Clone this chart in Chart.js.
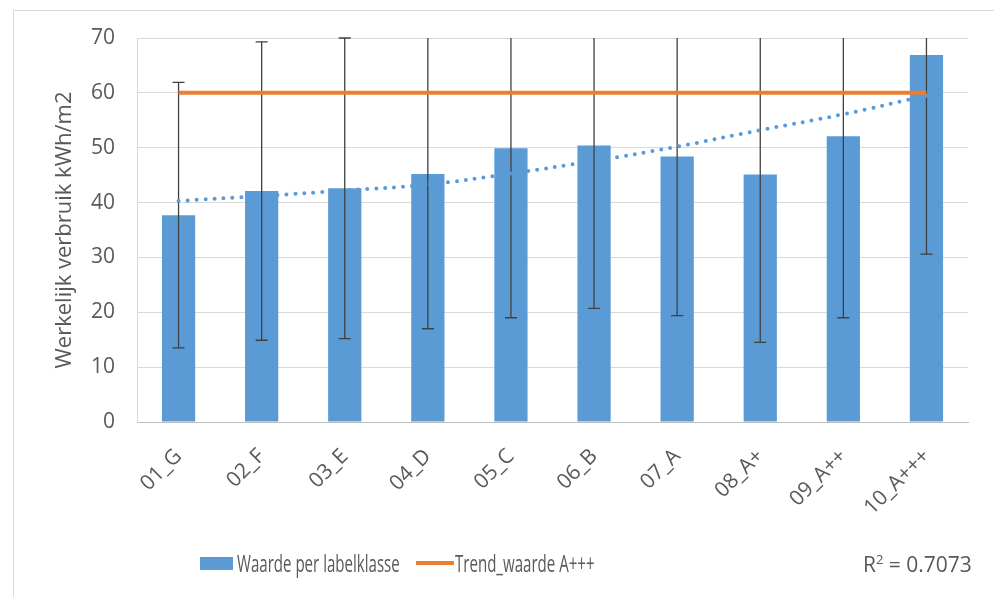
<!DOCTYPE html>
<html lang="nl">
<head>
<meta charset="UTF-8">
<title>Werkelijk verbruik per labelklasse</title>
<script src="https://cdn.jsdelivr.net/npm/chart.js"></script>
<style>
  body { margin: 0; background: #fff; }
  #wrap { position: relative; width: 994px; height: 597px; overflow: hidden; }
  #frame { position: absolute; left: 13px; top: 10px; width: 1000px; height: 600px;
           border-left: 1px solid #d9d9d9; border-top: 1px solid #d9d9d9; }
  canvas { position: absolute; left: 0; top: 0; }
  .lg { position: absolute; font-family: 'Open Sans', sans-serif;
        font-size: 21px; color: #595959; line-height: 24px; white-space: nowrap; }
  .smal { font-size: 23px; transform: scaleX(0.655); transform-origin: 0 50%; }
</style>
</head>
<body>
<div id="wrap">
  <div id="frame"></div>
  <canvas id="chart" width="994" height="597"></canvas>
  <div style="position:absolute;left:200px;top:557px;width:33px;height:13px;background:#5b9bd5"></div>
  <div class="lg smal" style="left:237px;top:551px">Waarde per labelklasse</div>
  <div style="position:absolute;left:416px;top:561px;width:38px;height:4px;background:#ed7d31"></div>
  <div class="lg smal" style="left:455px;top:551px">Trend_waarde A+++</div>
  <div class="lg" style="left:863px;top:552px">R<sup style="font-size:13px;line-height:0">2</sup> = 0.7073</div>
</div>
<script>
const klassen = ['01_G','02_F','03_E','04_D','05_C','06_B','07_A','08_A+','09_A++','10_A+++'];
const waarde = [37.7, 42.1, 42.6, 45.2, 49.9, 50.4, 48.4, 45.1, 52.1, 66.9];
const foutmarge = [24.2, 27.2, 27.4, 28.2, 30.9, 29.7, 29.0, 30.6, 33.1, 36.3];
const trendWaarde = [60, 60, 60, 60, 60, 60, 60, 60, 60, 60];
const trendlijn = [40.3, 41.2, 42.2, 43.3, 45.3, 47.6, 50.2, 53.2, 56.1, 59.5];
const yTicks = [0, 10, 20, 30, 40, 50, 60, 70];

// foutbalken over de staven
const errorBars = {
  id: 'errorBars',
  afterDatasetDraw(chart, args) {
    if (args.index !== 0) return;
    const ctx = chart.ctx, y = chart.scales.y, area = chart.chartArea;
    const meta = chart.getDatasetMeta(0);
    ctx.save();
    ctx.strokeStyle = '#404040';
    ctx.lineWidth = 1.3;
    meta.data.forEach((bar, i) => {
      const lo = waarde[i] - foutmarge[i], hi = waarde[i] + foutmarge[i];
      const yLo = y.getPixelForValue(lo);
      const yHi = Math.max(area.top, y.getPixelForValue(hi));
      ctx.beginPath();
      ctx.moveTo(bar.x, yLo); ctx.lineTo(bar.x, yHi);
      ctx.moveTo(bar.x - 6, yLo); ctx.lineTo(bar.x + 6, yLo);
      if (hi <= y.max + 0.05) { ctx.moveTo(bar.x - 6, yHi); ctx.lineTo(bar.x + 6, yHi); }
      ctx.stroke();
    });
    ctx.restore();
  }
};

new Chart(document.getElementById('chart'), {
  data: {
    labels: klassen,
    datasets: [
      { type: 'bar', label: 'Waarde per labelklasse', data: waarde, backgroundColor: '#5b9bd5',
        barPercentage: 0.4, categoryPercentage: 1, order: 2 },
      { type: 'line', label: 'R² = 0.7073', data: trendlijn, borderColor: '#5b9bd5', borderWidth: 4,
        borderDash: [0, 9], borderCapStyle: 'round', tension: 0.4, pointRadius: 0, fill: false, order: 1 },
      { type: 'line', label: 'Trend_waarde A+++', data: trendWaarde, borderColor: '#ed7d31', borderWidth: 4,
        pointRadius: 0, fill: false, order: 0 }
    ]
  },
  options: {
    responsive: false,
    animation: false,
    layout: { padding: { top: 38, right: 26, left: 0, bottom: 0 } },
    plugins: { legend: { display: false }, tooltip: { enabled: false } },
    scales: {
      x: {
        grid: { display: false },
        border: { color: '#bfbfbf' },
        ticks: { color: '#595959', font: { family: 'Open Sans', size: 21 }, maxRotation: 45, minRotation: 45, padding: 14 },
        afterFit(s) { s.height = 175; }
      },
      y: {
        min: 0, max: 70,
        afterBuildTicks(s) { s.ticks = yTicks.map(v => ({ value: v })); },
        grid: { color: '#d9d9d9', drawTicks: false },
        border: { color: '#d9d9d9' },
        ticks: { color: '#595959', font: { family: 'Open Sans', size: 21 }, padding: 22 },
        title: { display: true, text: 'Werkelijk verbruik kWh/m2', color: '#595959',
                 font: { family: 'Open Sans', size: 22 }, padding: { top: 52, bottom: 0 } },
        afterFit(s) { s.width = 137; }
      }
    }
  },
  plugins: [errorBars]
});
</script>
</body>
</html>
